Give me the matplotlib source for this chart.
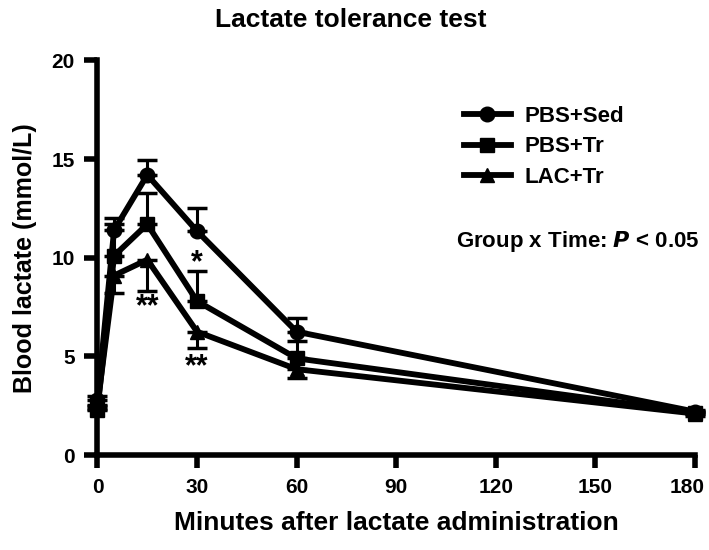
import numpy as np
import matplotlib
matplotlib.use("Agg")
import matplotlib.pyplot as plt
import matplotlib.transforms as mtransforms

plt.rcParams['font.family'] = ['Liberation Sans', 'DejaVu Sans']
plt.rcParams['font.weight'] = 'bold'

# sampling times (min)
minutes = [0, 5, 15, 30, 60, 180]

# group means (mmol/L)
pbs_sed = [2.8, 11.4, 14.2, 11.35, 6.25, 2.2]
pbs_tr = [2.3, 10.1, 11.7, 7.8, 4.9, 2.15]
lac_tr = [2.55, 9.1, 9.9, 6.25, 4.35, 2.1]

# SEM, drawn one-sided (up for PBS groups, down for LAC+Tr)
pbs_sed_err = [0.2, 0.6, 0.75, 1.15, 0.7, 0.1]
pbs_tr_err = [0.2, 1.6, 1.6, 1.55, 0.9, 0.1]
lac_tr_err = [0.2, 0.9, 1.6, 0.85, 0.45, 0.1]

labels = ['PBS+Sed', 'PBS+Tr', 'LAC+Tr']
markers = ['o', 's', '^']

fig = plt.figure(figsize=(7.09, 5.5), dpi=100)
ax = fig.add_axes([0.1375, 0.1727, 0.8427, 0.7173])

zero = [0] * len(minutes)
series = [(pbs_sed, pbs_sed_err, 'up'), (pbs_tr, pbs_tr_err, 'up'), (lac_tr, lac_tr_err, 'down')]
for (y, e, side), lab, mk in zip(series, labels, markers):
    yerr = [zero, e] if side == 'up' else [e, zero]
    ax.errorbar(minutes, y, yerr=yerr, fmt='none', ecolor='black',
                elinewidth=2.2, capsize=7, capthick=2.5, clip_on=False)
    ax.plot(minutes, y, color='black', lw=4.2, marker=mk, ms=10.5,
            label=lab, clip_on=False)

# significance marks
ax.text(15, 7.5, '**', ha='center', va='center', fontsize=22)
ax.text(30, 9.7, '*', ha='center', va='center', fontsize=22)
ax.text(30, 4.45, '**', ha='center', va='center', fontsize=22)

ax.set_xlim(0, 180)
ax.set_ylim(0, 20)
ax.set_xticks([0, 30, 60, 90, 120, 150, 180])
ax.set_yticks([0, 5, 10, 15, 20])
ax.spines['top'].set_visible(False)
ax.spines['right'].set_visible(False)
for s in ['left', 'bottom']:
    ax.spines[s].set_linewidth(4)
ax.tick_params(width=4, length=9.5, labelsize=15, pad=7)

# keep the last x label inside the figure
last = ax.get_xticklabels()[-1]
last.set_transform(last.get_transform() +
                   mtransforms.ScaledTranslation(-6 / 72, 0, fig.dpi_scale_trans))

fig.text(0.495, 0.963, 'Lactate tolerance test', ha='center', va='center',
         fontsize=19, fontweight='bold')
ax.set_xlabel('Minutes after lactate administration', fontsize=19, fontweight='bold', labelpad=10)
ax.set_ylabel('Blood lactate (mmol/L)', fontsize=18, fontweight='bold', labelpad=10)

ax.legend(loc='upper left', bbox_to_anchor=(0.58, 0.935), frameon=False,
          prop={'weight': 'bold', 'size': 16},
          handlelength=2.1, handletextpad=0.6, labelspacing=0.42)

ax.text(0.6, 0.54, 'Group x Time: $\\bf{\\it{P}}$ < 0.05', transform=ax.transAxes,
        fontsize=16, fontweight='bold', va='center')

fig.savefig('out.png', dpi=100)
